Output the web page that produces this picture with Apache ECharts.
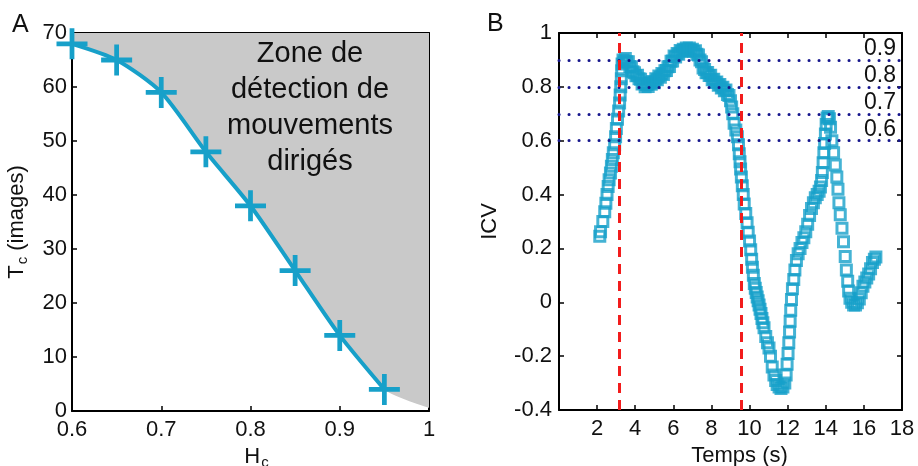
<!DOCTYPE html>
<html>
<head>
<meta charset="utf-8">
<script src="https://cdn.jsdelivr.net/npm/echarts@6/dist/echarts.min.js"></script>
<style>
html,body{margin:0;padding:0;background:#fff;}
#chart{width:918px;height:466px;}
</style>
</head>
<body>
<div id="chart"></div>
<script>
// ---------- Panel A data ----------
const hcValues = [0.6, 0.65, 0.7, 0.75, 0.8, 0.85, 0.9, 0.95];
const tcValues = [68, 65, 59, 48, 38, 26, 14, 4];
const zoneEnd = [1.0, 0.6];            // grey zone closes at H = 1
const zoneText = 'Zone de\ndétection de\nmouvements\ndirigés';

// ---------- Panel B data ----------
const icvTimes = [
  2.14,2.18,2.30,2.40,2.46,2.52,2.58,2.63,2.70,2.75,2.80,2.85,2.92,2.97,3.01,3.07,3.13,3.18,3.21,3.24,3.27,3.29,3.31,
  3.36,3.42,3.48,3.56,3.64,3.72,3.80,3.88,3.96,4.04,4.12,4.20,4.28,4.36,4.44,4.52,4.60,4.68,4.76,4.84,4.92,5.00,
  5.08,5.16,5.24,5.32,5.40,5.48,5.56,5.64,5.72,5.80,5.88,5.96,6.04,6.12,6.20,6.28,6.36,6.44,6.52,6.60,6.68,6.76,
  6.84,6.92,7.00,7.08,7.16,7.24,7.32,7.40,7.48,7.56,7.64,7.72,7.80,7.88,7.96,8.04,8.12,8.20,8.28,8.36,8.44,8.52,
  8.60,8.68,8.76,8.84,8.92,9.00,
  9.06,9.12,9.19,9.28,9.36,9.42,9.46,9.50,9.53,9.57,9.62,9.67,9.72,9.80,9.87,9.93,10.00,10.06,10.11,10.15,10.20,
  10.25,10.30,10.35,10.40,10.45,10.50,10.55,10.60,10.65,10.70,10.76,10.85,10.94,11.02,11.10,11.19,11.28,
  11.37,11.45,11.55,11.65,11.75,11.85,11.92,11.97,12.02,12.06,12.10,12.13,12.16,12.20,12.25,12.32,12.38,12.46,
  12.55,12.65,12.75,12.85,12.95,13.05,13.15,13.25,13.35,13.45,13.55,13.65,13.72,13.78,13.82,13.86,13.90,13.94,
  13.98,14.02,14.07,14.13,14.19,14.25,14.32,14.41,14.50,14.58,14.64,14.69,14.76,14.85,14.93,15.02,15.08,15.15,
  15.20,15.27,15.36,15.46,15.56,15.66,15.76,15.86,15.95,16.05,16.15,16.25,16.35,16.45,16.55,16.63
];
const icvValues = [
  0.245,0.262,0.300,0.336,0.368,0.400,0.430,0.455,0.480,0.505,0.530,0.555,0.585,0.615,0.645,0.680,0.710,0.740,0.770,0.800,0.830,0.860,0.885,
  0.900,0.892,0.905,0.893,0.893,0.876,0.874,0.856,0.852,0.841,0.843,0.830,0.828,0.811,0.814,0.800,0.809,0.801,0.814,0.810,0.820,0.815,
  0.830,0.826,0.840,0.836,0.850,0.846,0.860,0.861,0.875,0.876,0.895,0.896,0.915,0.911,0.924,0.921,0.935,0.931,0.940,0.936,0.944,0.937,
  0.944,0.936,0.940,0.931,0.934,0.921,0.918,0.900,0.893,0.870,0.864,0.852,0.853,0.842,0.843,0.826,0.828,0.816,0.818,0.806,0.809,0.796,
  0.799,0.786,0.788,0.772,0.768,0.748,
  0.725,0.700,0.665,0.640,0.615,0.585,0.552,0.522,0.495,0.465,0.433,0.400,0.365,0.330,0.295,0.260,0.228,0.195,0.160,0.130,0.100,
  0.070,0.052,0.036,0.020,0.006,-0.010,-0.026,-0.042,-0.060,-0.076,-0.095,-0.127,-0.150,-0.170,-0.200,-0.240,-0.270,
  -0.290,-0.305,-0.315,-0.320,-0.315,-0.300,-0.270,-0.230,-0.190,-0.150,-0.110,-0.070,-0.030,0.010,0.050,0.085,0.120,0.155,
  0.180,0.200,0.222,0.240,0.262,0.290,0.322,0.348,0.370,0.388,0.400,0.412,0.428,0.452,0.482,0.518,0.555,0.590,
  0.625,0.660,0.684,0.690,0.682,0.650,0.600,0.555,0.510,0.465,0.420,0.370,0.325,0.275,0.225,0.170,0.120,0.078,
  0.042,0.015,0.000,-0.010,-0.010,-0.002,0.012,0.035,0.060,0.075,0.090,0.105,0.125,0.148,0.160,0.168
];
const redLineTimes = [3.15, 9.57];
const thresholds = [0.9, 0.8, 0.7, 0.6];

const xTicksA = [0.6, 1.0, 0.1];
const yTicksA = [0, 70, 10];
const xTicksB = [0, 18, 2];
const yTicksB = [-0.4, 1.0, 0.2];

// ---------- styles ----------
const FONT = '"Liberation Sans", Arial, Helvetica, sans-serif';
const BLUE = '#17a0c9';
const TXT = '#111';
const fmt = v => String(+Number(v).toFixed(2));

function baseAxis(grid, range, pos, showLabel, extra) {
  return Object.assign({
    type: 'value', gridIndex: grid, position: pos,
    min: range[0], max: range[1], interval: range[2],
    axisLine: { show: true, onZero: false, lineStyle: { color: '#000', width: 2 } },
    axisTick: { show: true, inside: true, length: 5, lineStyle: { color: '#000', width: 1.5 } },
    splitLine: { show: false },
    axisLabel: { show: showLabel, fontFamily: FONT, fontSize: 22, color: TXT, margin: 8, formatter: fmt }
  }, extra || {});
}

const plusPath = 'path://M-2.3,-15H2.3V-2.3H15V2.3H2.3V15H-2.3V2.3H-15V-2.3H-2.3Z';

const curveA = hcValues.map((h, i) => [h, tcValues[i]]);
const zoneA = curveA.concat([zoneEnd]);
const icvData = icvTimes.map((t, i) => [t, icvValues[i]]);

const markData = thresholds.map(th => ({
  yAxis: th,
  lineStyle: { color: '#16168c', width: 3, type: [0.1, 9.9], cap: 'round' },
  label: { show: true, position: 'insideEndTop', formatter: String(th), fontFamily: FONT, fontSize: 23, color: TXT, distance: [6, 0] }
})).concat(redLineTimes.map(t => ({
  xAxis: t,
  lineStyle: { color: '#f21c1c', width: 3, type: [10, 7] },
  label: { show: false }
})));

const subRich = {
  m: { fontFamily: FONT, fontSize: 22, color: TXT },
  s: { fontFamily: FONT, fontSize: 15, color: TXT, verticalAlign: 'bottom', padding: [12, 0, 0, 1] }
};

const option = {
  animation: false,
  backgroundColor: '#fff',
  grid: [
    { left: 72, top: 33, width: 357, height: 378, outerBoundsMode: 'none', containLabel: false },
    { left: 559, top: 33, width: 343, height: 377, outerBoundsMode: 'none', containLabel: false }
  ],
  xAxis: [
    baseAxis(0, xTicksA, 'bottom', true, {
      name: '{m|H}{s|c}', nameLocation: 'middle', nameGap: 31,
      nameTextStyle: { rich: subRich, padding: [0, 0, 0, 12] }
    }),
    baseAxis(0, xTicksA, 'top', false),
    baseAxis(1, xTicksB, 'bottom', true, {
      name: 'Temps (s)', nameLocation: 'middle', nameGap: 34,
      nameTextStyle: { fontFamily: FONT, fontSize: 22, color: TXT, padding: [0, 0, 0, 18] },
      axisLabel: { show: true, showMinLabel: false, fontFamily: FONT, fontSize: 22, color: TXT, margin: 8, formatter: fmt }
    }),
    baseAxis(1, xTicksB, 'top', false)
  ],
  yAxis: [
    baseAxis(0, yTicksA, 'left', true, {
      name: '{m|T}{s|c}{m| (images)}', nameLocation: 'middle', nameGap: 42, nameRotate: 90,
      nameTextStyle: { rich: subRich },
      axisLabel: { show: true, fontFamily: FONT, fontSize: 22, color: TXT, margin: 5, formatter: fmt }
    }),
    baseAxis(0, yTicksA, 'right', false),
    baseAxis(1, yTicksB, 'left', true, {
      name: 'ICV', nameLocation: 'middle', nameGap: 58, nameRotate: 90,
      nameTextStyle: { fontFamily: FONT, fontSize: 22, color: TXT },
      axisLabel: { show: true, fontFamily: FONT, fontSize: 22, color: TXT, margin: 7, formatter: fmt }
    }),
    baseAxis(1, yTicksB, 'right', false)
  ],
  series: [
    {
      type: 'line', xAxisIndex: 0, yAxisIndex: 0, data: zoneA, smooth: 0.25,
      symbol: 'none', lineStyle: { width: 0, opacity: 0 },
      areaStyle: { origin: 'end', color: '#c9c9c9', opacity: 1 }, z: 1, silent: true
    },
    {
      type: 'line', xAxisIndex: 0, yAxisIndex: 0, data: curveA, smooth: 0.25,
      lineStyle: { color: BLUE, width: 4 },
      symbol: plusPath, symbolSize: 31, symbolKeepAspect: true,
      itemStyle: { color: BLUE, borderWidth: 0 }, z: 3
    },
    {
      type: 'scatter', xAxisIndex: 2, yAxisIndex: 2, data: icvData,
      symbol: 'rect', symbolSize: 10,
      itemStyle: { color: 'rgba(0,0,0,0)', borderColor: BLUE, borderWidth: 3 },
      z: 2,
      markLine: { silent: true, symbol: ['none', 'none'], animation: false, data: markData }
    }
  ],
  graphic: [
    { type: 'text', x: 310, y: 36, style: { text: zoneText, fontFamily: FONT, fontSize: 29, lineHeight: 36, fill: TXT, align: 'center', verticalAlign: 'top' }, z: 10 },
    { type: 'text', x: 12, y: 13, style: { text: 'A', fontFamily: FONT, fontSize: 25, fill: TXT } },
    { type: 'text', x: 487, y: 12, style: { text: 'B', fontFamily: FONT, fontSize: 25, fill: TXT } }
  ]
};

const chart = echarts.init(document.getElementById('chart'), null, { renderer: 'canvas' });
chart.setOption(option);
</script>
</body>
</html>
